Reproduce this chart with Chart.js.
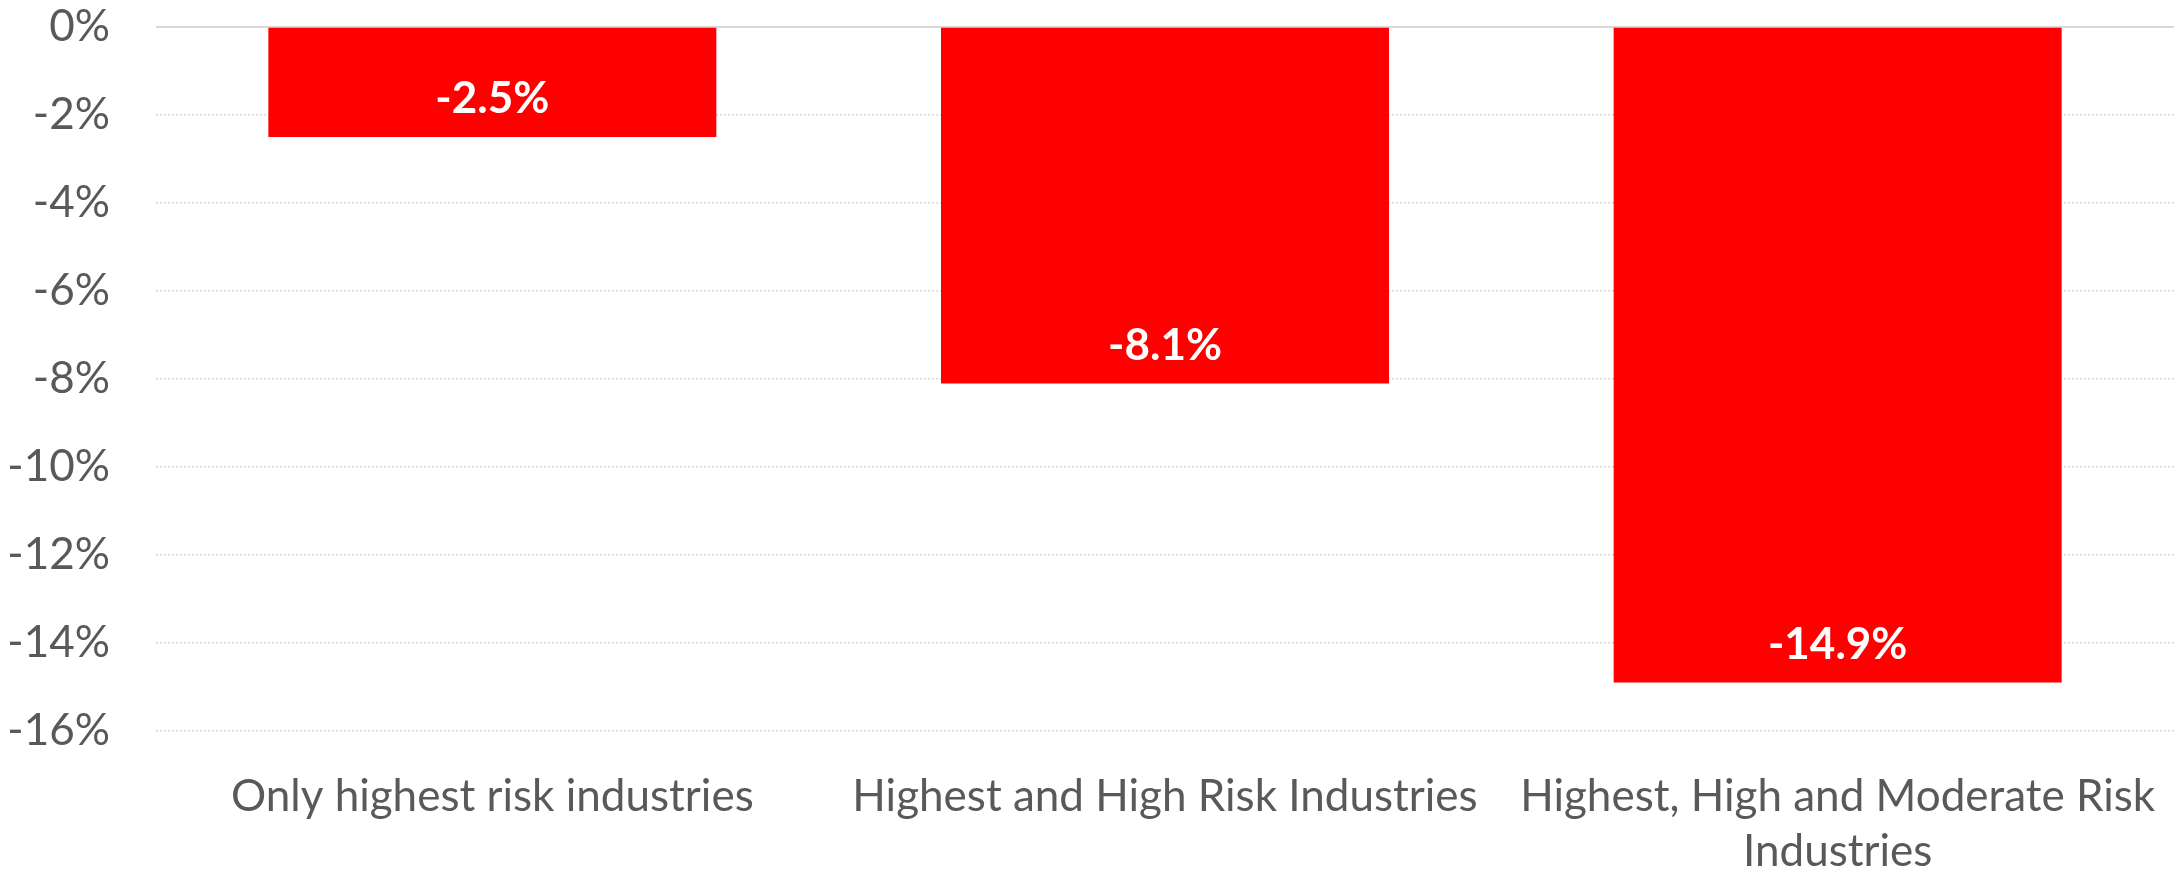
<!DOCTYPE html>
<html>
<head>
<meta charset="utf-8">
<script src="https://cdn.jsdelivr.net/npm/chart.js@4"></script>
<style>
  html, body { margin: 0; padding: 0; background: #ffffff; }
  #wrap { width: 2181px; height: 872px; }
</style>
</head>
<body>
<div id="wrap"><canvas id="grafico" width="2181" height="872"></canvas></div>
<script>
// Dados do gráfico
var categorias = [
    'Only highest risk industries',
    'Highest and High Risk Industries',
    ['Highest, High and Moderate Risk', 'Industries']
];
var valores = [-2.5, -8.1, -14.9];
var ticksY = [0, -2, -4, -6, -8, -10, -12, -14, -16];

var fonte = 'Lato, "Open Sans", sans-serif';

// Rótulos brancos dentro da barra, perto da ponta
var rotulosBarras = {
    id: 'rotulosBarras',
    afterDatasetsDraw: function (chart) {
        var ctx = chart.ctx;
        var meta = chart.getDatasetMeta(0);
        ctx.save();
        ctx.fillStyle = '#ffffff';
        ctx.font = 'bold 44px ' + fonte;
        ctx.textAlign = 'center';
        ctx.textBaseline = 'middle';
        meta.data.forEach(function (bar, i) {
            ctx.fillText(valores[i].toFixed(1) + '%', bar.x, bar.y - 38);
        });
        ctx.restore();
    }
};

// Linha do zero sólida (as outras são pontilhadas)
var linhaZero = {
    id: 'linhaZero',
    beforeDatasetsDraw: function (chart) {
        var ctx = chart.ctx;
        var y = chart.scales.y.getPixelForValue(0);
        ctx.save();
        ctx.strokeStyle = '#d9d9d9';
        ctx.lineWidth = 2;
        ctx.beginPath();
        ctx.moveTo(chart.chartArea.left, y);
        ctx.lineTo(chart.chartArea.right, y);
        ctx.stroke();
        ctx.restore();
    }
};

var ctx = document.getElementById('grafico').getContext('2d');

var grafico = new Chart(ctx, {
    type: 'bar',
    data: {
        labels: categorias,
        datasets: [{
            data: valores,
            backgroundColor: '#ff0000',
            borderWidth: 0,
            barPercentage: 0.666,
            categoryPercentage: 1.0
        }]
    },
    options: {
        responsive: false,
        devicePixelRatio: 1,
        animation: false,
        layout: { padding: { top: 0, right: 7, left: 0, bottom: 0 } },
        plugins: {
            legend: { display: false },
            tooltip: { enabled: false }
        },
        scales: {
            x: {
                grid: { display: false, drawTicks: false },
                border: { display: false },
                afterFit: function (axis) {
                    axis.height = 141;
                    axis.paddingLeft = 0;
                    axis.paddingRight = 0;
                },
                ticks: {
                    color: '#595959',
                    font: { family: fonte, size: 44, lineHeight: 1.25 },
                    padding: 38,
                    maxRotation: 0,
                    autoSkip: false
                }
            },
            y: {
                min: -16,
                max: 0,
                afterBuildTicks: function (axis) {
                    axis.ticks = ticksY.map(function (v) { return { value: v }; });
                },
                afterFit: function (axis) {
                    axis.width = 156;
                    axis.paddingTop = 27;
                    axis.paddingBottom = 0;
                },
                grid: {
                    color: '#d9d9d9',
                    lineWidth: 1.5,
                    drawTicks: false
                },
                border: { display: false, dash: [2, 2] },
                ticks: {
                    color: '#595959',
                    font: { family: fonte, size: 44 },
                    padding: 46,
                    callback: function (v) { return v + '%'; }
                }
            }
        }
    },
    plugins: [linhaZero, rotulosBarras]
});
</script>
</body>
</html>
